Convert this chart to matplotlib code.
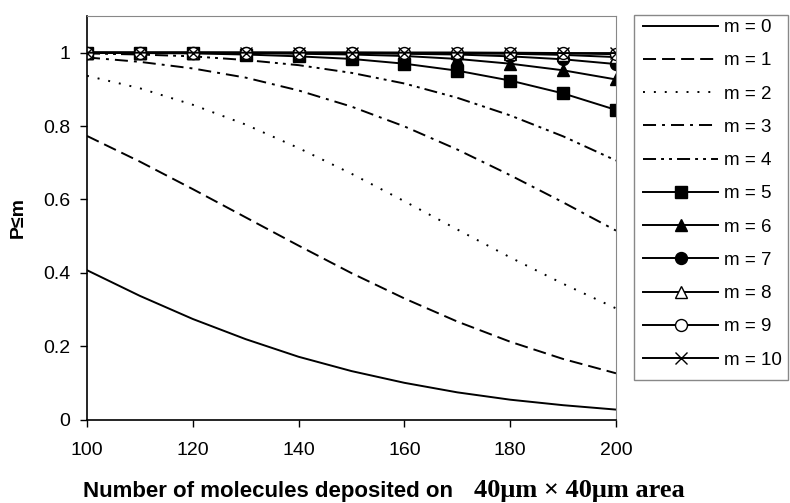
import matplotlib.pyplot as plt
from matplotlib.patches import Rectangle

plt.rcParams['font.family'] = ['Liberation Sans', 'DejaVu Sans']

# number of deposited molecules
n_molecules = [100, 110, 120, 130, 140, 150, 160, 170, 180, 190, 200]

# P(<= m) for each m
p_m0 = [0.407, 0.337, 0.274, 0.219, 0.171, 0.132, 0.100, 0.074, 0.054, 0.039, 0.027]
p_m1 = [0.773, 0.703, 0.628, 0.551, 0.474, 0.399, 0.330, 0.267, 0.212, 0.165, 0.126]
p_m2 = [0.937, 0.903, 0.858, 0.804, 0.740, 0.670, 0.595, 0.518, 0.442, 0.370, 0.303]
p_m3 = [0.987, 0.975, 0.957, 0.932, 0.897, 0.853, 0.799, 0.736, 0.666, 0.592, 0.515]
p_m4 = [0.998, 0.995, 0.990, 0.980, 0.966, 0.945, 0.916, 0.877, 0.829, 0.772, 0.706]
p_m5 = [1.000, 0.999, 0.998, 0.995, 0.990, 0.983, 0.970, 0.951, 0.924, 0.889, 0.844]
p_m6 = [1.000, 1.000, 1.000, 0.999, 0.997, 0.995, 0.991, 0.983, 0.970, 0.952, 0.927]
p_m7 = [1.000, 1.000, 1.000, 1.000, 0.999, 0.999, 0.997, 0.995, 0.990, 0.982, 0.969]
p_m8 = [1.000, 1.000, 1.000, 1.000, 1.000, 1.000, 0.999, 0.998, 0.997, 0.994, 0.988]
p_m9 = [1.000, 1.000, 1.000, 1.000, 1.000, 1.000, 1.000, 1.000, 0.999, 0.998, 0.996]
p_m10 = [1.000, 1.000, 1.000, 1.000, 1.000, 1.000, 1.000, 1.000, 1.000, 0.999, 0.999]

series = [p_m0, p_m1, p_m2, p_m3, p_m4, p_m5, p_m6, p_m7, p_m8, p_m9, p_m10]
labels = ['m = %d' % i for i in range(11)]

styles = [
    dict(ls='-'),
    dict(ls=(0, (6.7, 3.1))),
    dict(ls=(0, (1.0, 4.6))),
    dict(ls=(0, (6.7, 3.1, 1.5, 3.1))),
    dict(ls=(0, (6.7, 2.6, 1.5, 2.6, 1.5, 2.6))),
    dict(ls='-', marker='s', mfc='black'),
    dict(ls='-', marker='^', mfc='black'),
    dict(ls='-', marker='o', mfc='black'),
    dict(ls='-', marker='^', mfc='white'),
    dict(ls='-', marker='o', mfc='white'),
    dict(ls='-', marker='x'),
]

W, H = 790, 503
fig = plt.figure(figsize=(W / 100, H / 100), dpi=100)
ax = fig.add_axes([87 / W, 1 - 419.5 / H, 529 / W, 403.5 / H])

for vals, lab, st in zip(series, labels, styles):
    ax.plot(n_molecules, vals, color='black', lw=1.4, label=lab,
            markersize=8.6, mec='black', mew=1.0, **st)

ax.set_xlim(100, 200)
ax.set_ylim(0, 1.1)
ax.set_xticks([100, 120, 140, 160, 180, 200])
ax.set_yticks([0, 0.2, 0.4, 0.6, 0.8, 1.0])
ax.set_yticklabels(['0', '0.2', '0.4', '0.6', '0.8', '1'])
ax.tick_params(labelsize=14, direction='out', length=5, width=1)
ax.tick_params(axis='x', pad=11)
ax.tick_params(axis='y', pad=7)

for side in ['top', 'right']:
    ax.spines[side].set_color('#888888')
for side in ['left', 'bottom']:
    ax.spines[side].set_color('black')
    ax.spines[side].set_linewidth(1.2)

ax.set_ylabel('P≤m', fontsize=14, fontweight='bold')
ax.yaxis.set_label_coords(-0.113, 0.5)

fig.text(83 / W, 1 - 497 / H, 'Number of molecules deposited on', ha='left', va='baseline',
         fontsize=16, fontweight='bold')
fig.text(474 / W, 1 - 497 / H, '40μm × 40μm area', ha='left', va='baseline',
         fontsize=19, fontweight='bold', family=['Liberation Serif', 'DejaVu Serif'])

# legend box, drawn separately from the entries
fig.patches.append(Rectangle((634 / W, 1 - 380 / H), 154 / W, 365 / H,
                             transform=fig.transFigure, fill=False,
                             edgecolor='#888888', lw=1.0))
leg = fig.legend(loc='upper left', bbox_to_anchor=(643 / W, 1 - 19 / H),
                 fontsize=13.5, handlelength=4.0, labelspacing=0.86,
                 frameon=False, borderaxespad=0, borderpad=0,
                 handletextpad=0.3)

fig.savefig('out.png', dpi=100)
